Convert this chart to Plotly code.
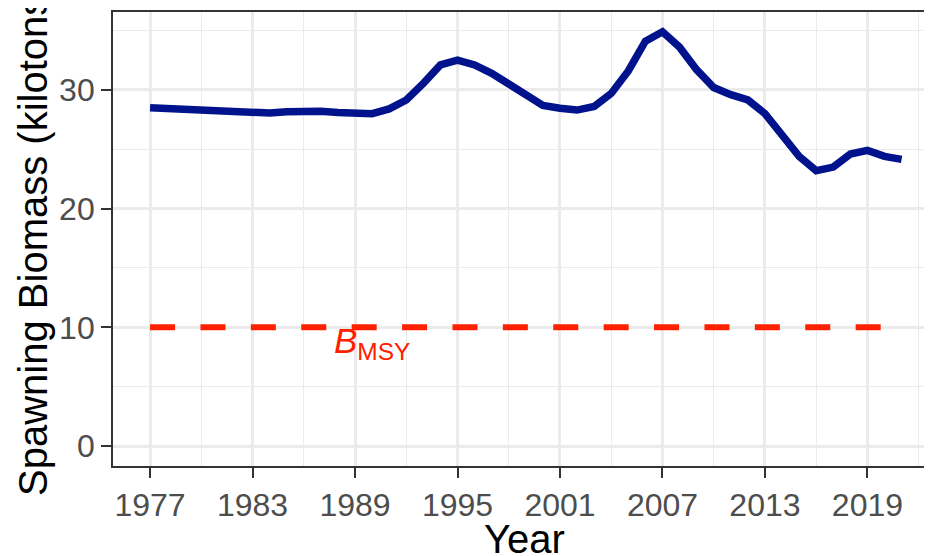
import plotly.graph_objects as go

years = list(range(1977, 2022))
biomass = [28.5, 28.45, 28.35, 28.3, 28.2, 28.1, 28.05, 28.05, 28.15, 28.2,
           28.2, 28.1, 28.05, 28.0, 28.4, 29.15, 30.55, 32.1, 32.5, 32.1,
           31.4, 30.5, 29.5, 28.7, 28.45, 28.3, 28.6, 29.7, 31.6, 34.1,
           34.9, 33.6, 31.7, 30.2, 29.6, 29.15, 28.0, 26.2, 24.4, 23.2,
           23.5, 24.6, 24.9, 24.4, 24.15]

bmsy_value = 10
bmsy_years = [1977, 2021]
bmsy_label = "<i>B</i><sub>MSY</sub>"
bmsy_label_pos = (1990, 8.7)

x_ticks = [1977, 1983, 1989, 1995, 2001, 2007, 2013, 2019]
y_ticks = [0, 10, 20, 30]

FONT = "Liberation Sans, Arial, Helvetica, sans-serif"
GRID = "#EBEBEB"
AXC = "#333333"

fig = go.Figure()
fig.add_trace(go.Scatter(
    x=bmsy_years, y=[bmsy_value] * len(bmsy_years), mode="lines",
    line=dict(color="#FF2000", width=6, dash="25px,25.4px"),
    hoverinfo="skip", showlegend=False))
fig.add_trace(go.Scatter(
    x=years, y=biomass, mode="lines",
    line=dict(color="#00138C", width=7.5),
    showlegend=False))

fig.add_annotation(x=bmsy_label_pos[0], y=bmsy_label_pos[1], xref="x", yref="y",
                   text=bmsy_label, showarrow=False,
                   font=dict(family=FONT, size=35, color="#FF2000"))

fig.add_annotation(x=0.503, y=-0.161, xref="paper", yref="paper",
                   text="Year", showarrow=False, xanchor="center", yanchor="middle",
                   font=dict(family=FONT, size=40, color="black"))
fig.add_annotation(x=-0.0977, y=0.5, xref="paper", yref="paper",
                   text="Spawning Biomass (kilotons)", showarrow=False, textangle=-90,
                   xanchor="center", yanchor="middle",
                   font=dict(family=FONT, size=40, color="black"))

fig.update_xaxes(
    range=[1974.83, 2022.78], tickmode="array", tickvals=x_ticks,
    ticktext=[str(t) for t in x_ticks],
    showgrid=True, gridcolor=GRID, gridwidth=2.5,
    minor=dict(tickmode="array", tickvals=[1974, 1980, 1986, 1992, 1998, 2004, 2010, 2016, 2022],
               showgrid=True, gridcolor=GRID, gridwidth=1.3, ticks=""),
    ticks="outside", ticklen=10, tickwidth=2, tickcolor=AXC,
    showline=True, linecolor=AXC, linewidth=1.8, mirror=True,
    zeroline=False,
    tickfont=dict(family=FONT, size=32, color="#4D4D4D"))
fig.update_yaxes(
    range=[-1.68, 36.56], tickmode="array", tickvals=y_ticks,
    ticktext=[str(t) for t in y_ticks],
    showgrid=True, gridcolor=GRID, gridwidth=2.5,
    minor=dict(tickmode="array", tickvals=[5, 15, 25, 35],
               showgrid=True, gridcolor=GRID, gridwidth=1.3, ticks=""),
    ticks="outside", ticklen=10, tickwidth=2, tickcolor=AXC,
    showline=True, linecolor=AXC, linewidth=1.8, mirror=False,
    zeroline=False,
    tickfont=dict(family=FONT, size=32, color="#4D4D4D"))

# The page body has an 8px margin, so the figure is sized/offset to compensate.
fig.update_layout(
    width=924, height=548,
    margin=dict(l=105, r=0, t=4, b=90, pad=0),
    plot_bgcolor="white", paper_bgcolor="white",
    font=dict(family=FONT),
)

fig.write_html("out.html")
